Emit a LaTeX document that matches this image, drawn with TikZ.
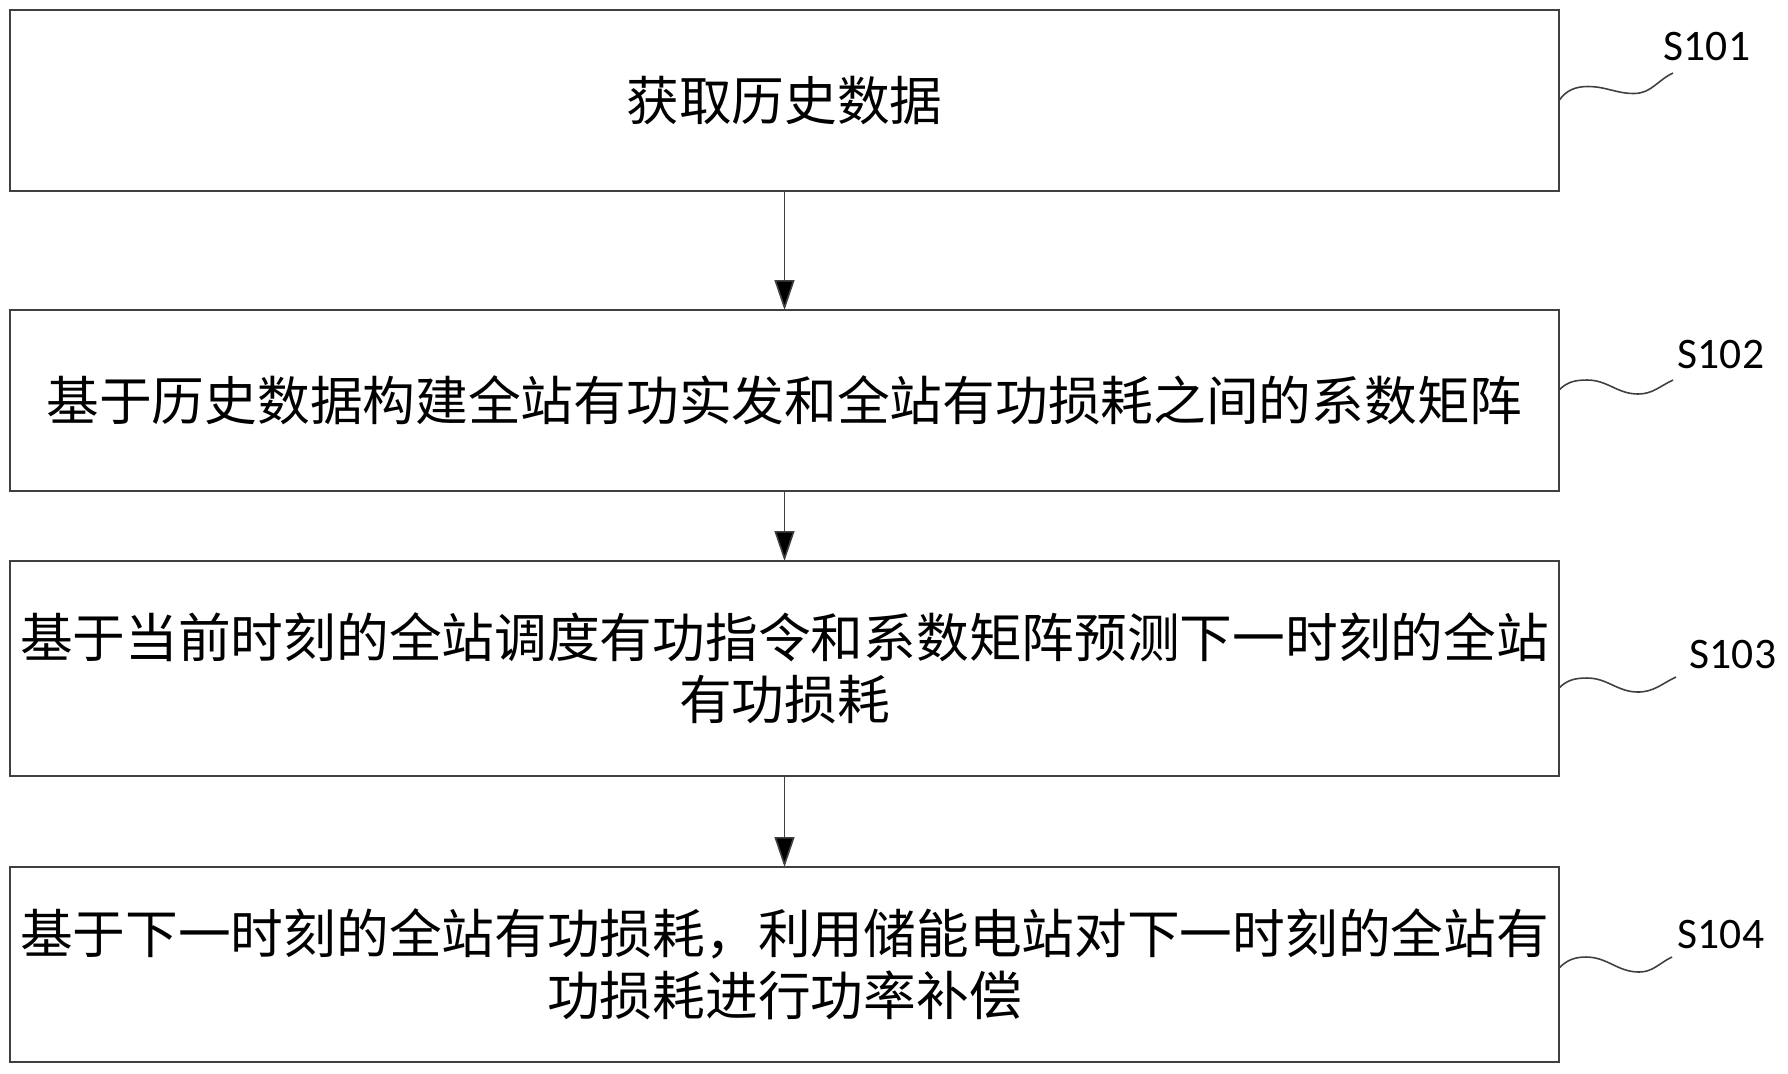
\documentclass[tikz,border=0pt]{standalone}
\usepackage{fontspec}
\setmainfont{Carlito}
\newfontfamily\cjkfont{Noto Sans CJK SC}
\usetikzlibrary{arrows.meta,positioning}

\definecolor{linegray}{HTML}{404040}

\begin{document}
\begin{tikzpicture}[>={Triangle[length=3mm,width=2mm]}, line width=0.45pt,
    stepbox/.style={draw=linegray, rectangle, minimum width=154.9mm, inner xsep=0.5mm,
        outer sep=0pt, align=center, font=\cjkfont\fontsize{15pt}{17.6pt}\selectfont},
    steplabel/.style={anchor=south west, inner sep=0pt, font=\fontsize{12.4pt}{14pt}\selectfont},
    lead/.style={draw=linegray}]
    \useasboundingbox (0,0) rectangle (178.8mm,-107.3mm);

    % Steps {s1, s2, s3, s4}
    \node [stepbox, minimum height=18.1mm, anchor=north] (s1) at (78.45mm,-1mm) {获取历史数据};
    \node [stepbox, minimum height=18.1mm] (s2) [below=11.9mm of s1] {基于历史数据构建全站有功实发和全站有功损耗之间的系数矩阵};
    \node [stepbox, minimum height=21.5mm] (s3) [below=7mm of s2]    {基于当前时刻的全站调度有功指令和系数矩阵预测下一时刻的全站\\有功损耗};
    \node [stepbox, minimum height=19.5mm] (s4) [below=9.1mm of s3]  {基于下一时刻的全站有功损耗，利用储能电站对下一时刻的全站有\\功损耗进行功率补偿};

    % Labels
    \node [steplabel] (l1) at ([shift={(10.4mm,3.85mm)}]s1.east) {S101};
    \node [steplabel] (l2) at ([shift={(11.8mm,3.05mm)}]s2.east) {S102};
    \node [steplabel] (l3) at ([shift={(13.0mm,-0.15mm)}]s3.east) {S103};
    \node [steplabel] (l4) at ([shift={(11.8mm,1.45mm)}]s4.east) {S104};

    % Paths
    \path [->, draw=linegray] (s1) edge (s2);
    \path [->, draw=linegray] (s2) edge (s3);
    \path [->, draw=linegray] (s3) edge (s4);

    % Leaders
    \draw [lead] (s1.east) to[out=55,in=180] ++(2.9mm,1.4mm) to[out=0,in=180] ++(4.6mm,-0.7mm)
        to[out=0,in=205] ([shift={(1mm,-1.1mm)}]l1.south west);
    \draw [lead] ([yshift=1.05mm]s2.east) to[out=45,in=180] ++(2.8mm,1.0mm) to[out=0,in=180] ++(5.1mm,-1.4mm)
        to[out=0,in=205] ([shift={(-0.4mm,-1mm)}]l2.south west);
    \draw [lead] ([yshift=-1.95mm]s3.east) to[out=45,in=180] ++(2.8mm,1.0mm) to[out=0,in=180] ++(5.1mm,-1.4mm)
        to[out=0,in=205] ([shift={(-1.3mm,-0.7mm)}]l3.south west);
    \draw [lead] ([yshift=-0.35mm]s4.east) to[out=45,in=180] ++(2.7mm,1.1mm) to[out=0,in=180] ++(5.3mm,-1.5mm)
        to[out=0,in=205] ([shift={(-0.5mm,-0.7mm)}]l4.south west);

\end{tikzpicture}
\end{document}
